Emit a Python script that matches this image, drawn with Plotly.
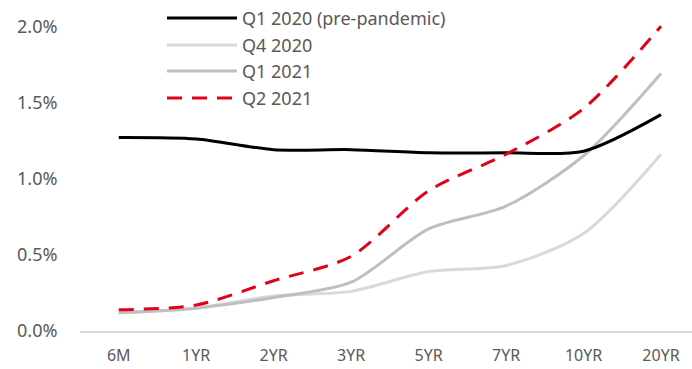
import plotly.graph_objects as go

# Yield curve tenors and yields (%) by quarter
tenors = ["6M", "1YR", "2YR", "3YR", "5YR", "7YR", "10YR", "20YR"]
q1_2020 = [1.27, 1.26, 1.19, 1.19, 1.17, 1.17, 1.18, 1.42]
q4_2020 = [0.12, 0.15, 0.23, 0.26, 0.39, 0.43, 0.64, 1.16]
q1_2021 = [0.12, 0.15, 0.22, 0.32, 0.67, 0.82, 1.15, 1.69]
q2_2021 = [0.14, 0.17, 0.33, 0.49, 0.92, 1.16, 1.46, 2.00]

series_names = ["Q1 2020 (pre-pandemic)", "Q4 2020", "Q1 2021", "Q2 2021"]
series_vals = [q1_2020, q4_2020, q1_2021, q2_2021]
colors = ["#000000", "#d9d9d9", "#bfbfbf", "#e3001b"]
dashes = ["solid", "solid", "solid", "15px,10px"]

FONT = "Noto Sans"
TXT = "#595959"

fig = go.Figure()
# Draw the light lines first so the dark and red curves sit on top
order = [1, 2, 0, 3]
for i in order:
    fig.add_trace(go.Scatter(
        x=tenors, y=[v / 100 for v in series_vals[i]], mode="lines",
        name=series_names[i], line=dict(color=colors[i], width=3, dash=dashes[i],
                                        shape="spline", smoothing=0.8),
        cliponaxis=False, showlegend=False,
    ))

W, H = 692, 369
ML, MR, MT, MB = 80, 0, 11, 38


def px_to_paper_x(px):
    return (px - ML) / (W - ML - MR)


def px_to_paper_y(py):
    return (H - MB - py) / (H - MT - MB)


# Legend drawn as line samples with text labels
leg_y = [18, 45, 71, 98]
shapes = []
annotations = []
for i, name in enumerate(series_names):
    yy = px_to_paper_y(leg_y[i])
    shapes.append(dict(type="line", xref="paper", yref="paper",
                       x0=px_to_paper_x(167), x1=px_to_paper_x(237), y0=yy, y1=yy,
                       line=dict(color=colors[i], width=3, dash=dashes[i])))
    annotations.append(dict(xref="paper", yref="paper",
                            x=px_to_paper_x(240), y=yy,
                            text=name, showarrow=False, xanchor="left", yanchor="middle",
                            font=dict(family=FONT, size=18, color=TXT)))

fig.update_layout(
    width=W, height=H,
    margin=dict(l=ML, r=MR, t=MT, b=MB),
    paper_bgcolor="white", plot_bgcolor="white",
    shapes=shapes, annotations=annotations,
    xaxis=dict(type="category", range=[-0.5, 7.4], showgrid=False,
               showline=True, linecolor="#d9d9d9", linewidth=1.5,
               ticks="outside", ticklen=9, tickcolor="rgba(0,0,0,0)",
               tickfont=dict(family=FONT, size=16, color=TXT)),
    yaxis=dict(range=[0, 0.021], tickvals=[0, 0.005, 0.01, 0.015, 0.02],
               tickformat=".1%", showgrid=False, zeroline=False, showline=False,
               ticks="outside", ticklen=18, tickcolor="rgba(0,0,0,0)",
               tickfont=dict(family=FONT, size=18, color=TXT)),
)

fig.write_html("out.html")
